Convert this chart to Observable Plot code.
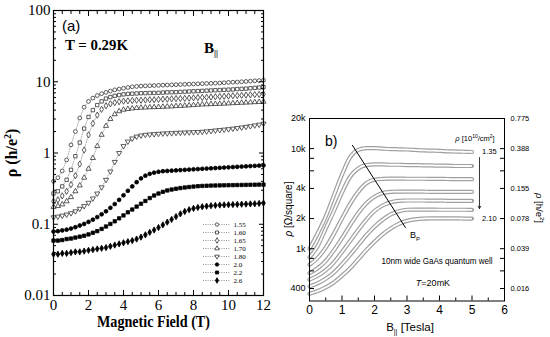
<!DOCTYPE html>
<html><head><meta charset="utf-8">
<script src="https://cdn.jsdelivr.net/npm/d3@7"></script>
<script src="https://cdn.jsdelivr.net/npm/@observablehq/plot@0.6"></script>
<style>
body{margin:0;background:#fff;}
#wrap{position:relative;width:550px;height:337px;overflow:hidden;background:#fff;}
#wrap svg{position:absolute;top:0;}
</style></head><body><div id="wrap"></div>
<script>
// ---------- Panel (a) data ----------
const densitiesA = ["1.55","1.60","1.65","1.70","1.80","2.0","2.2","2.6"];
const fieldA = [0,0.25,0.5,0.75,1,1.25,1.5,1.75,2,2.25,2.5,2.75,3,3.25,3.5,3.75,4,4.25,4.5,4.75,5,5.25,5.5,5.75,6,6.25,6.5,6.75,7,7.25,7.5,7.75,8,8.25,8.5,8.75,9,9.25,9.5,9.75,10,10.25,10.5,10.75,11,11.25,11.5,11.75,12];
const rhoA155 = [0.40,0.45,0.56,0.80,1.3,2.0,3.1,4.4,5.3,5.9,6.4,6.8,7.1,7.4,7.7,7.9,8.1,8.3,8.5,8.6,8.7,8.75,8.8,8.85,8.9,8.95,9.0,9.05,9.1,9.15,9.2,9.25,9.3,9.35,9.4,9.45,9.5,9.55,9.6,9.7,9.8,9.85,9.9,10.0,10.1,10.2,10.3,10.4,10.5];
const rhoA160 = [0.27,0.29,0.34,0.42,0.58,0.90,1.4,2.2,3.2,4.0,4.7,5.3,5.8,6.1,6.35,6.5,6.65,6.75,6.8,6.85,6.9,6.92,6.95,6.97,7.0,7.05,7.1,7.12,7.15,7.2,7.25,7.3,7.35,7.4,7.45,7.5,7.55,7.6,7.65,7.7,7.75,7.8,7.9,7.95,8.0,8.1,8.2,8.3,8.4];
const rhoA165 = [0.21,0.22,0.25,0.29,0.36,0.48,0.70,1.1,1.8,2.6,3.4,4.1,4.6,4.9,5.1,5.25,5.35,5.4,5.45,5.5,5.5,5.55,5.6,5.6,5.65,5.7,5.7,5.75,5.8,5.82,5.85,5.9,5.95,6.0,6.02,6.05,6.1,6.15,6.2,6.25,6.3,6.35,6.4,6.45,6.5,6.55,6.6,6.65,6.7];
const rhoA170 = [0.175,0.18,0.19,0.21,0.24,0.29,0.35,0.45,0.60,0.85,1.25,1.8,2.4,3.0,3.5,3.85,4.05,4.15,4.22,4.28,4.32,4.35,4.38,4.4,4.42,4.45,4.48,4.5,4.55,4.58,4.62,4.66,4.7,4.75,4.8,4.82,4.85,4.88,4.9,4.93,4.96,5.0,5.03,5.07,5.1,5.13,5.17,5.2,5.25];
const rhoA180 = [0.125,0.128,0.132,0.137,0.143,0.152,0.165,0.18,0.20,0.23,0.27,0.33,0.42,0.55,0.75,1.0,1.25,1.45,1.6,1.7,1.76,1.8,1.82,1.84,1.86,1.88,1.89,1.9,1.92,1.93,1.94,1.95,1.96,1.97,1.99,2.01,2.04,2.07,2.1,2.13,2.16,2.2,2.24,2.28,2.33,2.38,2.44,2.5,2.58];
const rhoA200 = [0.079,0.080,0.082,0.084,0.087,0.091,0.096,0.101,0.108,0.116,0.126,0.138,0.152,0.170,0.192,0.22,0.255,0.295,0.34,0.39,0.44,0.48,0.51,0.53,0.545,0.555,0.56,0.565,0.57,0.575,0.58,0.585,0.59,0.595,0.60,0.605,0.61,0.615,0.62,0.625,0.63,0.635,0.64,0.645,0.65,0.655,0.66,0.665,0.67];
const rhoA220 = [0.059,0.059,0.060,0.062,0.063,0.065,0.067,0.069,0.072,0.076,0.080,0.086,0.093,0.101,0.110,0.121,0.133,0.147,0.161,0.177,0.194,0.212,0.233,0.253,0.27,0.285,0.298,0.307,0.315,0.322,0.328,0.333,0.338,0.342,0.345,0.347,0.349,0.35,0.351,0.352,0.353,0.354,0.355,0.356,0.357,0.358,0.359,0.36,0.36];
const rhoA260 = [0.038,0.038,0.039,0.039,0.040,0.041,0.041,0.042,0.043,0.044,0.045,0.046,0.047,0.049,0.051,0.053,0.055,0.057,0.059,0.062,0.066,0.071,0.077,0.083,0.090,0.098,0.107,0.117,0.128,0.140,0.151,0.160,0.167,0.172,0.176,0.179,0.182,0.184,0.186,0.187,0.188,0.189,0.190,0.191,0.192,0.193,0.194,0.196,0.198];
const xTicksA = [0,2,4,6,8,10,12];
const xLabelsA = ["0","2","4","6","8","10","12"];
const yTicksA = [0.01,0.1,1,10,100];
const yLabelsA = ["0.01","0.1","1","10","100"];

// ---------- Panel (b) data ----------
const fieldB = [0,0.25,0.5,0.75,1,1.25,1.5,1.75,2,2.25,2.5,2.75,3,3.25,3.5,3.75,4,4.25,4.5,4.75,5];
const rhoB1 = [1000,1420,2100,3400,5500,8200,9700,10100,10100,10000,9900,9850,9800,9700,9600,9550,9500,9400,9350,9300,9250];
const rhoB2 = [820,1060,1590,2380,3650,5240,6340,6850,6950,6950,6900,6900,6850,6850,6800,6800,6750,6750,6700,6700,6700];
const rhoB3 = [690,809,1026,1406,2005,2805,3700,4510,4880,4980,5020,5020,5000,5000,5000,4990,4980,4970,4960,4950,4950];
const rhoB4 = [570,638,755,962,1274,1718,2275,2845,3305,3600,3700,3720,3720,3720,3710,3700,3700,3700,3690,3690,3690];
const rhoB5 = [490,536,610,731,925,1194,1540,1950,2380,2700,2905,3010,3030,3030,3030,3020,3020,3010,3010,3010,3000];
const rhoB6 = [420,451,501,577,700,865,1089,1368,1660,1945,2200,2365,2450,2460,2460,2460,2450,2450,2450,2450,2440];
const rhoB7 = [355,377,411,460,537,638,785,968,1170,1390,1595,1770,1897,1963,2000,2010,2010,2010,2010,2000,2000];
const densityEndsB = ["1.35","2.10"];
const bpLine = [{B:1.32, rho:10800},{B:2.95, rho:1630}];
const arrowB = [{B:5.23, from:8150, to:2520}];
const xTicksB = [0,1,2,3,4,5,6];
const xLabelsB = ["0","1","2","3","4","5","6"];
const yTicksB = [20000,10000,8000,6000,4000,2000,1000,800,600,400];
const yLabelsB = ["20k","10k","8k","6k","4k","2k","1k","800","600","400"];
const yLabelsBRight = ["0.775","0.388","0.310","0.233","0.155","0.078","0.039","0.031","0.023","0.016"];

// ---------- build tables ----------
const valuesA = [rhoA155,rhoA160,rhoA165,rhoA170,rhoA180,rhoA200,rhoA220,rhoA260];
const tableA = densitiesA.flatMap((n,i)=> fieldA.map((B,j)=>({n, B, rho: valuesA[i][j]})));
const curvesB = [rhoB1,rhoB2,rhoB3,rhoB4,rhoB5,rhoB6,rhoB7];
const tableB = curvesB.flatMap((vals,k)=> fieldB.map((B,j)=>({k, B, rho: vals[j]})));
const endsB = [
  {B: fieldB[fieldB.length-1], rho: rhoB1[rhoB1.length-1], t: densityEndsB[0]},
  {B: fieldB[fieldB.length-1], rho: rhoB7[rhoB7.length-1], t: densityEndsB[1]}
];
const legendRows = densitiesA.map(n => ({n, a:0, m:0.5, b:1}));

// styles
const triDown = {draw(ctx, size){const s3=Math.sqrt(3);const y=-Math.sqrt(size/(s3*3));ctx.moveTo(0,-y*2);ctx.lineTo(-s3*y,y);ctx.lineTo(s3*y,y);ctx.closePath();}};
const styleA = [
  {symbol:"circle", fill:"white", stroke:"#333"},
  {symbol:"square", fill:"white", stroke:"#333"},
  {symbol:"diamond", fill:"white", stroke:"#333"},
  {symbol:"triangle", fill:"white", stroke:"#333"},
  {symbol:triDown, fill:"white", stroke:"#333"},
  {symbol:"circle", fill:"#000", stroke:"#000"},
  {symbol:"square", fill:"#000", stroke:"#000"},
  {symbol:"diamond", fill:"#000", stroke:"#000"}
];
const serif = "Liberation Serif, Times New Roman, serif";
const sans = "Liberation Sans, Arial, sans-serif";

const labXA = new Map(xTicksA.map((d,i)=>[d,xLabelsA[i]]));
const labA = new Map(yTicksA.map((d,i)=>[d,yLabelsA[i]]));
const minorYA = [0.01,0.1,1,10].flatMap(d=>[2,3,4,5,6,7,8,9].map(m=>d*m));
const minorXA = [0.5,1,1.5,2.5,3,3.5,4.5,5,5.5,6.5,7,7.5,8.5,9,9.5,10.5,11,11.5];

const A = Plot.plot({
  width: 275, height: 337,
  marginLeft: 53, marginRight: 12, marginTop: 10, marginBottom: 42,
  x: {domain: [0,12]},
  y: {type: "log", domain: [0.01, 100]},
  marks: [
    Plot.line(tableA, {x:"B", y:"rho", z:"n", stroke:"#888", strokeWidth:0.7, strokeDasharray:"1,1.4"}),
    ...densitiesA.map((n,i)=> Plot.dot(tableA.filter(d=>d.n===n), {x:"B", y:"rho", r:1.9, strokeWidth:0.8, ...styleA[i]})),
    Plot.frame({stroke:"#000", strokeWidth:1.2}),
    Plot.axisX({ticks: xTicksA, tickSize:-5, tickPadding:9, tickFormat:d=>labXA.get(d), fontSize:15, label:null}),
    Plot.axisX({ticks: minorXA, tickSize:-3, tickFormat:()=>"", label:null}),
    Plot.axisX({anchor:"top", ticks: xTicksA, tickSize:-5, tickFormat:()=>"", label:null}),
    Plot.axisX({anchor:"top", ticks: minorXA, tickSize:-3, tickFormat:()=>"", label:null}),
    Plot.axisY({ticks: yTicksA, tickSize:-5, tickPadding:8, tickFormat: d=>labA.get(d), fontSize:15, label:null}),
    Plot.axisY({ticks: minorYA, tickSize:-3, tickFormat:()=>"", label:null}),
    Plot.axisY({anchor:"right", ticks: yTicksA, tickSize:-5, tickFormat:()=>"", label:null}),
    Plot.axisY({anchor:"right", ticks: minorYA, tickSize:-3, tickFormat:()=>"", label:null})
  ]
});

const L = Plot.plot({
  width: 275, height: 337, margin: 0,
  x: {domain:[0,1], range:[203,230], axis:null},
  y: {type:"point", domain: densitiesA, range:[219,285], axis:null},
  marks: [
    Plot.ruleY(legendRows, {y:"n", x1:"a", x2:"b", stroke:"#666", strokeWidth:0.7, strokeDasharray:"1,1.3"}),
    ...densitiesA.map((n,i)=> Plot.dot(legendRows.filter(d=>d.n===n), {x:"m", y:"n", r:1.7, strokeWidth:0.8, ...styleA[i]})),
    Plot.text(legendRows, {x:"b", y:"n", text:"n", dx:3, textAnchor:"start", fontSize:7, fontFamily:serif})
  ]
});

const labXB = new Map(xTicksB.map((d,i)=>[d,xLabelsB[i]]));
const labBL = new Map(yTicksB.map((d,i)=>[d,yLabelsB[i]]));
const labBR = new Map(yTicksB.map((d,i)=>[d,yLabelsBRight[i]]));
const B = Plot.plot({
  width: 272, height: 337,
  marginLeft: 31, marginRight: 46, marginTop: 118, marginBottom: 36.5,
  x: {domain:[0,6]},
  y: {type:"log", domain:[300,20000]},
  marks: [
    Plot.line(tableB, {x:"B", y:"rho", z:"k", stroke:"#a0a0a0", strokeWidth:4.2, curve:"monotone-x", strokeLinecap:"round"}),
    Plot.line(tableB, {x:"B", y:"rho", z:"k", stroke:"#fff", strokeWidth:1.8, curve:"monotone-x", strokeDasharray:"2.4,1.1"}),
    Plot.line(bpLine, {x:"B", y:"rho", stroke:"#000", strokeWidth:1}),
    Plot.arrow(arrowB, {x1:"B", x2:"B", y1:"from", y2:"to", stroke:"#000", strokeWidth:0.8, headLength:5}),
    Plot.text(endsB, {x:"B", y:"rho", text:"t", dx:10, textAnchor:"start", fontSize:7.5, fontFamily:sans}),
    Plot.frame({stroke:"#000", strokeWidth:1}),
    Plot.axisY({ticks: yTicksB, tickSize:-5, tickPadding:9, tickFormat:d=>labBL.get(d), fontSize:9, fontFamily:sans, label:null}),
    Plot.axisY({anchor:"right", ticks: yTicksB, tickSize:-5, tickPadding:11, tickFormat:d=>labBR.get(d), fontSize:7.5, fontFamily:sans, label:null}),
    Plot.axisX({ticks: xTicksB, tickSize:-5, tickPadding:9.5, tickFormat:d=>labXB.get(d), fontSize:12, fontFamily:sans, label:null}),
    Plot.axisX({ticks: [0.5,1.5,2.5,3.5,4.5,5.5], tickSize:-3, tickFormat:()=>"", label:null})
  ]
});

function addText(svg, o) {
  const t = d3.select(svg).append("text")
    .attr("x", o.x).attr("y", o.y)
    .attr("font-size", o.size).attr("font-family", o.family)
    .attr("text-anchor", o.anchor || "start").attr("fill", "#000");
  if (o.weight) t.attr("font-weight", o.weight);
  if (o.rotate) t.attr("transform", `rotate(${o.rotate},${o.x},${o.y})`);
  if (o.length) t.attr("textLength", o.length).attr("lengthAdjust", "spacingAndGlyphs");
  o.parts.forEach(p => {
    if (typeof p === "string") p = {t: p};
    const s = t.append("tspan").text(p.t);
    if (p.dy) s.attr("dy", p.dy);
    if (p.size) s.attr("font-size", p.size);
    if (p.italic) s.attr("font-style", "italic");
  });
}

// panel (a) annotations
addText(A, {x:62, y:31, size:15, family:sans, parts:["(a)"]});
addText(A, {x:65, y:50, size:14.5, family:serif, weight:"bold", length:63, parts:["T = 0.29K"]});
addText(A, {x:204, y:53, size:15, family:serif, weight:"bold", parts:["B", {t:"||", size:9, dy:3}]});
addText(A, {x:17, y:153, size:16, family:serif, weight:"bold", anchor:"middle", rotate:-90, parts:["ρ (h/e", {t:"2", size:10, dy:-6}, {t:")", dy:6}]});
addText(A, {x:153.5, y:327, size:16.5, family:serif, weight:"bold", anchor:"middle", length:113, parts:["Magnetic Field (T)"]});

// panel (b) annotations (local coords)
addText(B, {x:47, y:146, size:14, family:sans, parts:["b)"]});
addText(B, {x:197, y:141, size:7.5, family:sans, anchor:"middle", parts:[{t:"ρ", italic:true}, {t:" [10"}, {t:"10", size:5, dy:-3}, {t:"/cm", dy:3}, {t:"2", size:5, dy:-3}, {t:"]", dy:3}]});
addText(B, {x:159, y:264, size:9, family:sans, anchor:"middle", length:111, parts:["10nm wide GaAs quantum well"]});
addText(B, {x:155, y:286, size:9, family:sans, anchor:"middle", parts:[{t:"T", italic:true}, "=20mK"]});
addText(B, {x:132, y:238, size:9, family:sans, parts:["B", {t:"P", size:6, dy:3}]});
addText(B, {x:132, y:331, size:11.5, family:sans, anchor:"middle", parts:["B", {t:"||", size:7, dy:2.5}, {t:" [Tesla]", dy:-2.5}]});
addText(B, {x:14, y:209, size:10, family:sans, anchor:"middle", rotate:-90, parts:[{t:"ρ", italic:true}, " [Ω/square]"]});
addText(B, {x:258, y:208, size:9.5, family:sans, anchor:"middle", rotate:90, parts:[{t:"ρ", italic:true}, " [h/e", {t:"2", size:6, dy:-3.5}, {t:"]", dy:3.5}]});

const wrap = document.getElementById("wrap");
[[A,0],[B,278],[L,0]].forEach(([svg,left]) => {
  svg.style.position = "absolute";
  svg.style.left = left + "px";
  svg.style.top = "0px";
  svg.style.background = "transparent";
  svg.style.overflow = "visible";
  svg.style.maxWidth = "none";
  wrap.appendChild(svg);
});
A.style.fontFamily = serif;
L.style.fontFamily = serif;
B.style.fontFamily = sans;
</script></body></html>
